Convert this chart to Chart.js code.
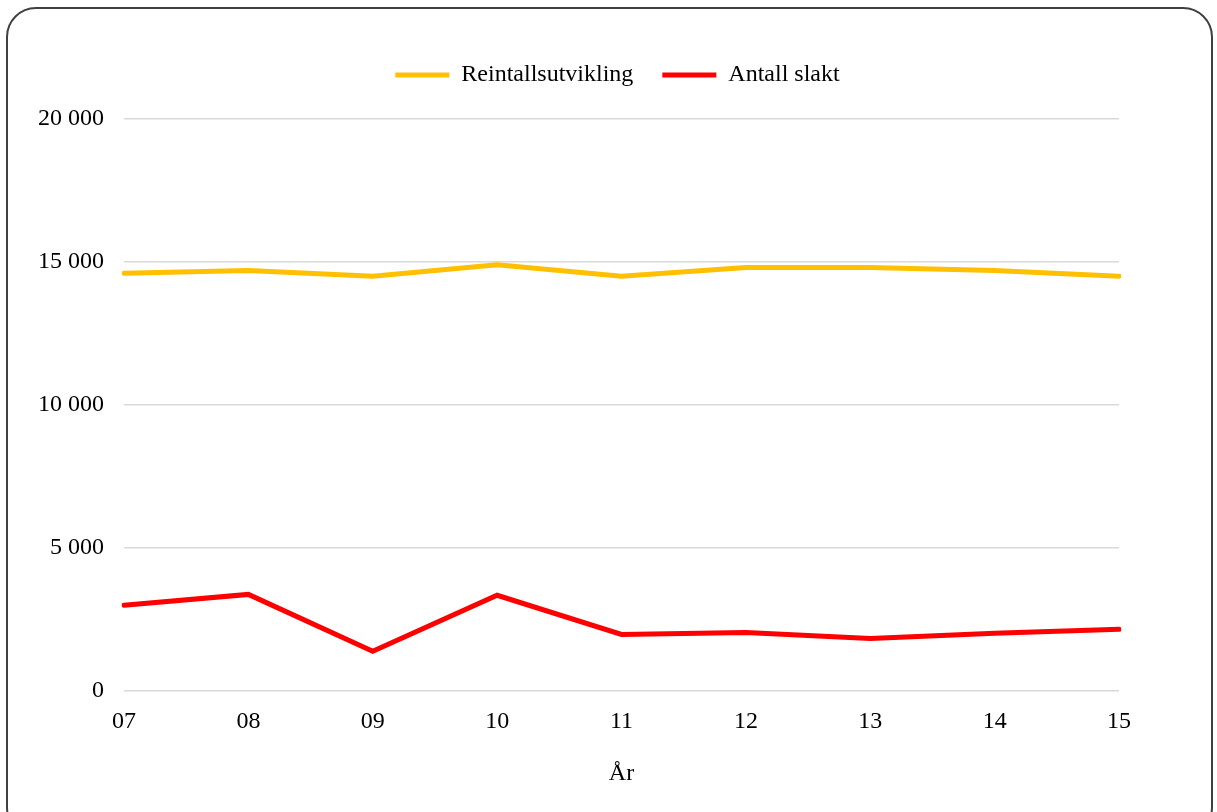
<!DOCTYPE html>
<html>
<head>
<meta charset="utf-8">
<script src="https://cdn.jsdelivr.net/npm/chart.js@4"></script>
<style>
  html, body { margin:0; padding:0; background:#fff; overflow:hidden; }
  #wrap { position:relative; width:1217px; height:812px; }
  #frame { position:absolute; left:6px; top:7px; width:1207px; height:830px;
           border:2px solid #404040; border-radius:30px; box-sizing:border-box; }
  canvas { position:absolute; left:0; top:0; }
</style>
</head>
<body>
<div id="wrap">
  <div id="frame"></div>
  <canvas id="c" width="1217" height="812"></canvas>
</div>
<script>
'use strict';
/* ---- data ---- */
const years = ['07', '08', '09', '10', '11', '12', '13', '14', '15'];
const reintall = [14600, 14700, 14500, 14900, 14500, 14800, 14800, 14700, 14500];
const slakt = [2980, 3360, 1370, 3330, 1960, 2030, 1820, 2000, 2140];
const yTicks = [0, 5000, 10000, 15000, 20000];

const FONT = 'Liberation Serif, "Times New Roman", serif';
const fmt = (v) => String(v).replace(/\B(?=(\d{3})+(?!\d))/g, ' ');

Chart.defaults.font.family = FONT;
Chart.defaults.color = '#000';

/* extra gap under the legend, and centre it over the plot area */
const legendTweak = {
  id: 'legendTweak',
  afterInit(chart) {
    const lg = chart.legend;
    if (!lg) return;
    const fit = lg.fit;
    lg.fit = function () { fit.call(this); this.height += 22; };
  },
  afterLayout(chart) {
    const lg = chart.legend;
    if (!lg) return;
    lg.left = chart.chartArea.left - 8;
    lg.width = lg.right - lg.left;
  },
};

new Chart(document.getElementById('c'), {
  type: 'line',
  data: {
    labels: years,
    datasets: [
      { label: 'Reintallsutvikling', data: reintall, borderColor: '#FFC000', backgroundColor: '#FFC000',
        borderWidth: 5, borderCapStyle: 'round', pointRadius: 0, pointStyle: 'line', tension: 0 },
      { label: 'Antall slakt', data: slakt, borderColor: '#FF0000', backgroundColor: '#FF0000',
        borderWidth: 5, borderCapStyle: 'round', pointRadius: 0, pointStyle: 'line', tension: 0 },
    ],
  },
  options: {
    responsive: false, animation: false, devicePixelRatio: 1,
    layout: { padding: { top: 34, right: 98, bottom: 24, left: 0 } },
    plugins: {
      legend: {
        position: 'top',
        labels: { usePointStyle: true, pointStyleWidth: 54, boxHeight: 5, padding: 29, font: { size: 24 } },
      },
      tooltip: { enabled: false },
    },
    scales: {
      x: {
        offset: false,
        grid: { display: false },
        border: { display: false },
        ticks: { font: { size: 24 }, padding: 9, maxRotation: 0 },
        title: { display: true, text: 'År', font: { size: 24 }, padding: { top: 14, bottom: 0 } },
      },
      y: {
        min: 0, max: 20000,
        afterBuildTicks: (s) => { s.ticks = yTicks.map(v => ({ value: v })); },
        afterFit: (s) => { s.width = 124; },
        grid: { color: '#d9d9d9', lineWidth: 1.5, drawTicks: false },
        border: { display: false },
        ticks: { font: { size: 24 }, padding: 20, callback: (v) => fmt(v) },
      },
    },
  },
  plugins: [legendTweak],
});
</script>
</body>
</html>
